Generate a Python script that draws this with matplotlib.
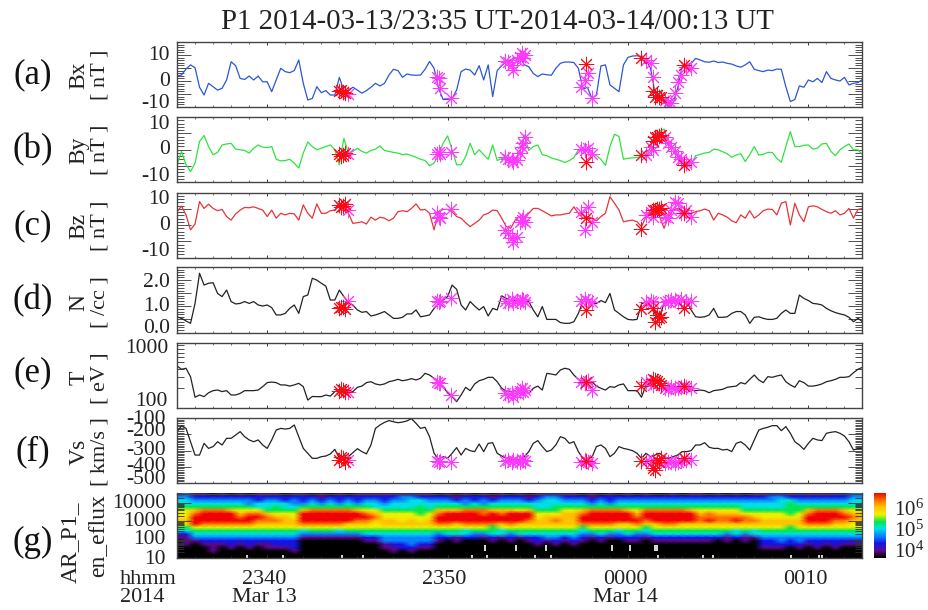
import numpy as np
import matplotlib
matplotlib.use('Agg')
import matplotlib.pyplot as plt
from matplotlib.colors import LinearSegmentedColormap, LogNorm
from matplotlib.ticker import MultipleLocator, LogLocator, NullFormatter, FixedLocator

plt.rcParams['font.family'] = ['Liberation Serif']
plt.rcParams['mathtext.fontset'] = 'custom'
plt.rcParams['mathtext.rm'] = 'Liberation Serif'

# minutes after 23:35, one sample every quarter minute
minutes = [i * 0.25 for i in range(153)]

bx = [1.9,2.3,4.6,6.2,5.1,-2.4,-5.4,-0.9,-2.2,-3.5,-2.8,0.4,7.4,5.9,1.0,0.6,1.9,0.4,1.9,-0.3,-0.3,-4.1,0.4,4.9,3.6,3.2,4.0,8.1,-0.9,-7.3,-6.7,-2.2,-4.5,-3.7,-5.4,-5.4,1.4,-3.7,-3.7,-2.4,-3.5,-4.7,-3.7,-2.4,-0.9,-1.9,-0.9,2.3,4.5,4.0,1.4,2.7,2.3,2.2,2.3,4.5,7.5,4.9,-2.8,-7.1,-7.1,-6.7,-3.5,3.6,4.6,4.2,2.3,5.9,0.4,6.2,-6.0,4.0,5.9,7.4,8.1,8.7,9.4,6.2,5.5,2.9,1.7,2.7,2.4,2.2,4.9,6.8,7.3,7.3,7.1,4.9,-3.2,-2.4,-6.7,-5.4,5.8,6.2,-1.5,-2.8,-4.1,6.2,9.1,9.6,9.7,9.4,8.1,4.9,-4.7,-6.0,-7.3,-9.9,-8.6,-2.8,5.5,6.2,6.8,8.7,8.1,7.4,7.2,7.7,7.1,7.3,6.8,6.5,5.8,5.3,6.2,7.4,4.5,4.0,3.6,4.2,4.0,4.6,4.5,-2.2,-7.9,-7.1,-1.9,-2.4,0.4,-0.3,1.0,-0.6,3.6,1.0,0.4,0.0,1.4,-1.5,-0.9,-0.6,0.6]
by = [-4.7,-0.6,-4.7,-6.8,-4.2,2.5,4.3,0.9,-1.6,-0.9,1.4,1.7,1.9,0.1,-0.1,-0.3,-1.1,0.4,1.4,0.7,0.6,0.9,-3.0,-3.5,-3.4,-3.0,-4.2,-5.7,-1.1,2.3,0.9,-0.1,0.4,0.9,1.4,-0.1,-4.7,3.4,-1.1,-0.6,0.4,-0.6,-1.1,-0.3,0.1,1.1,-0.3,-0.6,-0.9,-1.1,-1.6,-1.4,-1.9,-2.4,-3.0,-3.4,-5.0,-4.2,-1.6,1.9,4.2,-0.1,-4.7,-4.7,-2.2,1.9,-1.6,-0.1,-1.6,-3.0,1.4,-3.4,-2.7,-3.0,-3.2,-3.2,-0.6,4.5,-0.3,0.9,1.4,-1.6,-1.9,-2.6,-3.0,-3.4,-4.0,-3.4,-2.5,-0.1,0.2,-0.3,-1.3,-1.9,-3.0,-4.9,0.9,4.7,4.0,-3.0,-2.7,-2.6,-2.4,-2.2,-2.7,0.9,4.2,5.5,6.3,2.5,0.7,-1.6,-3.4,-4.2,-4.5,-1.9,-1.5,-1.1,-0.9,0.1,-0.1,-0.7,-1.3,-2.4,-1.7,-1.3,-3.7,-1.6,0.9,-1.7,-1.5,-0.9,-0.9,-2.7,-3.9,0.9,5.5,0.9,0.9,1.3,1.4,0.1,0.4,1.7,1.9,-0.6,-1.9,-0.1,0.9,1.7,-0.1,-0.1,-1.6]
bz = [4.1,5.8,3.1,-1.5,0.3,7.2,5.1,6.4,5.1,4.4,4.8,2.6,1.5,3.4,4.6,5.4,5.3,5.6,5.1,4.6,2.6,4.6,2.1,3.6,3.1,3.6,3.4,1.5,6.2,3.6,2.1,6.5,3.6,3.6,4.4,4.6,6.5,5.6,3.6,0.5,0.7,1.0,0.3,2.4,1.5,2.4,2.1,1.3,2.1,4.1,4.4,4.1,5.1,6.5,4.6,4.8,3.6,-1.5,4.1,4.8,4.8,4.1,2.6,2.1,0.7,-0.5,0.5,1.5,3.1,3.6,4.6,4.4,2.1,-0.5,-1.0,1.5,2.6,2.1,3.6,5.1,5.1,4.4,3.6,2.8,3.1,3.1,3.4,3.6,5.6,3.6,2.1,2.6,2.1,1.3,2.6,3.6,8.7,6.7,4.6,1.0,1.3,1.5,1.0,-0.5,2.6,4.6,5.1,2.6,-1.0,2.6,4.6,5.1,4.1,3.6,3.6,4.1,4.4,4.9,4.4,1.5,3.6,3.1,2.4,1.3,0.7,3.1,2.1,4.4,2.1,3.1,4.4,4.9,4.8,3.1,6.7,7.2,0.0,6.7,3.1,1.0,5.6,5.9,5.6,4.8,4.1,3.6,4.4,3.1,3.6,5.1,2.1,4.8,5.1]
density = [0.6,0.54,0.44,0.35,1.11,2.26,1.81,1.88,1.9,1.49,1.37,1.62,1.18,1.09,1.11,1.18,1.11,1.18,1.05,1.01,1.05,0.95,0.67,0.67,0.73,0.92,1.05,0.73,1.37,1.43,2.07,2.0,1.88,1.77,1.24,1.24,1.62,1.37,1.14,1.05,0.86,0.77,0.8,0.63,0.67,0.73,0.8,0.67,0.54,0.54,0.58,0.71,0.71,0.86,0.6,0.63,0.67,0.92,1.09,1.24,1.37,1.81,1.65,1.05,0.86,1.18,1.01,0.86,0.99,0.63,0.92,0.86,1.4,1.3,1.24,1.22,1.27,1.18,1.18,0.86,0.6,0.99,0.5,0.5,0.5,0.38,0.35,0.35,0.41,0.73,1.18,1.18,1.11,1.11,1.22,1.14,1.49,0.86,0.73,0.6,0.5,0.48,0.5,1.09,1.18,0.99,0.8,0.6,1.11,1.18,1.24,1.24,1.22,1.18,0.86,0.6,0.58,0.6,0.67,0.92,0.58,0.58,0.6,0.73,0.8,0.8,0.67,0.35,0.58,0.6,0.54,0.5,0.5,0.54,0.73,0.86,0.73,0.73,1.43,1.3,1.22,1.11,1.09,1.05,0.92,0.83,0.76,0.71,0.67,0.58,0.41,0.54,0.41]
temp = [438,390,404,300,146,158,149,171,184,188,178,184,158,158,167,184,184,184,188,212,244,249,244,225,225,216,225,238,212,132,150,149,149,158,152,178,188,178,171,178,207,216,244,252,233,225,233,252,261,274,261,268,281,268,284,338,319,284,244,212,170,149,125,158,207,184,233,261,274,294,294,252,200,181,178,178,178,178,167,200,216,188,338,330,319,380,404,390,319,274,244,233,252,216,200,188,212,207,225,233,184,184,184,146,225,244,252,244,225,216,212,207,200,193,188,184,188,184,171,184,188,193,207,212,216,244,233,274,319,268,244,301,294,308,319,252,225,207,261,244,216,216,222,233,252,261,274,294,294,301,346,390,418]
vs = [-184,-149,-164,-246,-328,-328,-256,-287,-276,-246,-266,-225,-225,-205,-184,-215,-235,-246,-235,-266,-287,-235,-174,-164,-168,-164,-143,-215,-287,-317,-348,-348,-338,-334,-321,-293,-348,-358,-338,-313,-289,-307,-321,-266,-164,-143,-127,-116,-123,-129,-125,-118,-104,-133,-164,-157,-215,-317,-354,-338,-348,-317,-282,-328,-287,-301,-307,-260,-307,-256,-252,-317,-334,-348,-352,-358,-354,-338,-307,-256,-239,-276,-307,-297,-266,-215,-225,-256,-246,-307,-348,-348,-342,-276,-266,-287,-338,-317,-276,-287,-293,-301,-317,-348,-317,-338,-328,-317,-338,-348,-338,-328,-307,-307,-301,-266,-266,-252,-280,-287,-287,-297,-293,-307,-256,-246,-266,-297,-235,-174,-164,-157,-147,-147,-178,-153,-194,-246,-266,-293,-256,-225,-235,-239,-194,-188,-184,-194,-211,-246,-297,-287,-287]

# star events
mag_t = [9.5,14.4,14.5,14.6,15.2,18.17,18.36,18.55,18.64,18.83,19.0,19.1,19.3,19.2,22.42,22.6,22.8,22.98,26.02,26.3,26.4,27.03,27.22,27.4,27.6,27.77,27.96,28.24,28.5]
mag_bx = [-5.1,1.4,1.0,-2.6,-6.7,7.8,7.4,6.2,4.2,8.1,9.4,10.9,10.0,8.7,-2.4,0.4,3.2,-6.7,8.1,6.8,1.7,-7.3,-8.6,-8.3,-4.7,-0.3,2.3,5.5,4.9]
mag_by = [-1.3,-1.3,-0.9,-1.3,-0.9,-2.2,-3.0,-3.2,-3.7,-3.2,-1.1,0.9,3.8,1.9,0.1,-0.3,0.4,-1.3,-1.6,0.9,-0.1,4.0,1.9,0.9,-0.6,-2.2,-3.0,-4.2,-3.7]
mag_bz = [4.6,3.8,2.6,2.1,4.8,-1.5,-2.6,-4.1,-5.1,-3.8,1.0,1.5,1.0,2.6,4.1,-1.5,5.6,1.0,3.1,4.1,2.6,2.6,2.1,4.6,7.2,6.7,3.6,4.6,2.6]
mag_n = [1.22,1.22,1.18,1.22,1.3,1.22,1.14,1.27,1.11,1.22,1.18,1.27,1.18,1.24,1.22,1.27,1.22,1.18,1.18,1.22,1.18,1.18,1.22,1.24,1.24,1.18,1.27,1.18,1.22]
mag_temp = [178,252,244,238,158,171,158,167,149,167,184,200,188,178,252,238,261,188,252,252,225,200,193,207,200,200,207,212,200]
mag_vs = [-358,-364,-369,-364,-369,-362,-358,-369,-358,-362,-369,-358,-362,-358,-369,-358,-369,-375,-362,-379,-358,-375,-369,-373,-379,-369,-362,-358,-358]

red_t = [9.0,9.2,9.3,9.1,22.7,25.7,26.4,26.6,26.7,26.5,26.85,28.1]
red_bx = [-3.7,-4.1,-4.5,-3.5,6.5,8.7,-3.7,-5.4,-6.0,-6.3,-6.0,6.2]
red_by = [-1.3,-1.6,-1.1,-1.9,-3.7,-1.8,2.5,3.8,4.2,4.0,4.5,-4.9]
red_bz = [6.2,5.8,6.5,5.6,2.1,-1.3,4.6,4.8,4.9,4.6,5.1,3.6]
red_n = [0.92,0.96,0.88,0.99,0.86,0.88,0.92,0.67,0.54,0.41,0.6,0.92]
red_temp = [184,188,178,193,247,216,274,261,238,268,225,216]
red_vs = [-358,-348,-369,-338,-364,-364,-410,-358,-369,-420,-348,-348]

# spectrogram colour levels 0-9, top energy row first, one column per half minute
spec_rows = [
    "23 11010 1011 101 1010101 11 121211 01010101010 12211 010101 0 10 0101 1010101 12212 1112 233",
    "33 22222 2222 222 2212222 22 223322 22122212221 23322 212222 2 22 2222 2222222 23322 2222 233",
    "44 33333 3323 323 2323232 33 233443 33232323332 34433 323233 3 33 3333 3333333 33443 3333 344",
    "44 44444 4344 443 3434343 44 344444 44434344444 44444 434344 4 44 4444 4444444 44454 4444 444",
    "55 55555 5544 544 5555555 54 444454 55555555555 44555 555555 5 55 5555 5555544 44455 5555 554",
    "66 78887 6665 555 7888887 66 555555 77788877767 55566 788887 6 88 8887 6666655 55555 7888 766",
    "66 89999 7887 666 9999999 87 666656 89999898999 66677 899999 7 99 9999 7877766 66656 8999 877",
    "66 99999 8998 776 9999999 98 666666 99999999999 67777 999999 8 99 9999 8888887 66666 9999 987",
    "77 99999 9988 877 9999998 87 776767 99999999998 77877 999999 9 89 9999 8988988 77777 9998 877",
    "66 98888 8877 777 8888877 76 777777 88788887877 77777 888877 8 77 8877 7777777 77777 8887 766",
    "55 66666 6666 666 6666666 66 666666 66666656666 66666 566666 6 56 6666 6666666 66656 6666 666",
    "44 55555 5555 555 4555455 55 555555 55545554555 55555 455545 5 45 5555 5555454 55555 5555 555",
    "22 44444 4444 444 3333333 44 444444 34443344344 44444 334334 3 34 4444 4443434 44444 4444 444",
    "11 33333 3333 333 1111111 22 333333 22122121212 23323 212122 2 12 2222 2221211 33333 3333 333",
    "01 12222 2222 222 0000000 11 333333 10100010101 21212 101001 1 01 1111 1101010 22323 2222 222",
    "01 01112 1211 222 0000000 00 122322 00000000000 10101 000000 0 00 0000 0000000 22222 1212 111",
    "00 00101 0101 112 0000000 00 112211 00000000000 00000 000000 0 00 0000 0000000 11101 0101 000",
    "00 00100 0000 001 0000000 00 010100 00000000000 00000 000000 0 00 0000 0000000 00000 0000 000",
    "00 00000 0000 000 0000000 00 000000 00000000000 00000 000000 0 00 0000 0000000 00000 0000 000",
    "00 00000 0000 000 0000000 00 000000 00000000000 00000 000000 0 00 0000 0000000 00000 0000 000",
]
spec_minutes = [i * 0.5 for i in range(77)]
spec_log_energy = [4.52,4.335,4.15,3.96,3.78,3.59,3.41,3.22,3.04,2.85,2.67,2.48,2.3,2.11,1.93,1.74,1.56,1.37,1.19,1.0]

# empty cells in the low energy part
gap_low_t = [3.86,5.89,9.12,10.32,16.38,17.16,19.83,20.75,26.67,29.16,29.72,34.05,35.6,35.75]
gap_high_t = [17.06,18.78,20.44,24.14,25.13,26.49,26.6]

title = 'P1 2014-03-13/23:35 UT-2014-03-14/00:13 UT'
hour_ticks = [5, 15, 25, 35]
hour_labels = ['2340', '2350', '0000', '0010']

W, H = 929, 610
X0, X1 = 177, 862.5
fig = plt.figure(figsize=(W / 100, H / 100), dpi=100)


def panel(y0, y1, x0=X0, x1=X1):
    return fig.add_axes([x0 / W, 1 - y1 / H, (x1 - x0) / W, (y1 - y0) / H])


def put(x, y, s, **kw):
    fig.text(x / W, 1 - y / H, s, ha=kw.pop('ha', 'center'), va=kw.pop('va', 'center'), **kw)


def style(ax):
    ax.set_xlim(0, 38)
    ax.xaxis.set_major_locator(FixedLocator(hour_ticks))
    ax.xaxis.set_minor_locator(MultipleLocator(1))
    ax.tick_params(axis='x', which='major', length=2.5, width=0.7, top=True, direction='in', labelbottom=False, color='#333333')
    ax.tick_params(axis='x', which='minor', length=1.2, width=0.5, top=True, direction='in', color='#333333')
    ax.tick_params(axis='y', which='major', length=10, width=0.6, right=True, direction='in', labelleft=False, color='#333333')
    ax.tick_params(axis='y', which='minor', length=5, width=0.6, right=True, direction='in', color='#333333')
    for s in ax.spines.values():
        s.set_linewidth(1.0)
        s.set_color('#444444')


def ylabels(ax, vals, texts, shifts, pad=7):
    for v, t, dy in zip(vals, texts, shifts):
        ax.annotate(t, xy=(0, v), xycoords=ax.get_yaxis_transform(), xytext=(-pad, dy),
                    textcoords='offset pixels', ha='right', va='center', fontsize=15.5, color='#222222')


panels = [
    dict(y=(42, 107), v=bx, m=mag_bx, r=red_bx, c='#2b57d6', lim=(-10, 15), maj=5, mnr=1,
         tv=[10, 0, -10], tl=['10', '0', '-10'], dy=[0, 0, 4], pad=7,
         lab=('Bx', '[ nT ]'), tag='(a)', ly=75, tag_y=75),
    dict(y=(117, 182), v=by, m=mag_by, r=red_by, c='#2fe33f', lim=(-10, 10), maj=5, mnr=1,
         tv=[10, 0, -10], tl=['10', '0', '-10'], dy=[-7, 0, 6], pad=7,
         lab=('By', '[ nT ]'), tag='(b)', ly=150, tag_y=150),
    dict(y=(192.5, 257.5), v=bz, m=mag_bz, r=red_bz, c='#e5343a', lim=(-10, 10), maj=5, mnr=1,
         tv=[10, 0, -10], tl=['10', '0', '-10'], dy=[-7, 0, 6], pad=7,
         lab=('Bz', '[ nT ]'), tag='(c)', ly=226, tag_y=226),
    dict(y=(267, 332.5), v=density, m=mag_n, r=red_n, c='#222222', lim=(0, 2.5), maj=0.5, mnr=0.1,
         tv=[2, 1, 0], tl=['2.0', '1.0', '0.0'], dy=[-2, 0, 4], pad=7,
         lab=('N', '[ /cc ]'), tag='(d)', ly=302, tag_y=301),
    dict(y=(342.5, 408), v=temp, m=mag_temp, r=red_temp, c='#222222', lim=(100, 1000), maj=None, mnr=None,
         tv=[1000, 100], tl=['1000', '100'], dy=[-6, 6], pad=9,
         lab=('T', '[ eV ]'), tag='(e)', ly=378, tag_y=373),
    dict(y=(418, 483), v=vs, m=mag_vs, r=red_vs, c='#222222', lim=(-500, -100), maj=100, mnr=10,
         tv=[-100, -200, -300, -400, -500], tl=['-100', '-200', '-300', '-400', '-500'], dy=[-2, 3, 0, 0, 3], pad=11,
         lab=('Vs', '[ km/s ]'), tag='(f)', ly=452, tag_y=452),
]

for p in panels:
    ax = panel(*p['y'])
    style(ax)
    ax.plot(minutes, p['v'], color=p['c'], lw=0.9)
    ax.plot(mag_t, p['m'], ls='none', marker=(8, 2, 0), ms=11, mew=0.7, color='#ff38ff')
    ax.plot(red_t, p['r'], ls='none', marker=(8, 2, 0), ms=11, mew=0.7, color='#fa0a14')
    if p['maj'] is None:
        ax.set_yscale('log')
        ax.yaxis.set_major_locator(LogLocator(base=10, numticks=3))
        ax.yaxis.set_minor_locator(LogLocator(base=10, subs=range(2, 10), numticks=3))
        ax.yaxis.set_minor_formatter(NullFormatter())
    else:
        ax.yaxis.set_major_locator(MultipleLocator(p['maj']))
        ax.yaxis.set_minor_locator(MultipleLocator(p['mnr']))
    ax.set_ylim(*p['lim'])
    style(ax)
    ylabels(ax, p['tv'], p['tl'], p['dy'], p['pad'])
    put(79, p['ly'], p['lab'][0], rotation=90, fontsize=17, color='#222222')
    put(100, p['ly'], p['lab'][1], rotation=90, fontsize=16, color='#222222')
    put(33, p['tag_y'], p['tag'], fontsize=25, color='#111111')

# spectrogram
levels = np.array([[int(ch) for ch in row.replace(' ', '')] for row in spec_rows])
flux = 10 ** (3.75 + levels / 9 * 3.05)
energy = 10 ** np.array(spec_log_energy)
spec_colors = ['#000000', '#5c0a8e', '#1414e6', '#0a82ff', '#00e0e6', '#00e650', '#eef000', '#ffc400', '#ff7000', '#f00000']
cmap = LinearSegmentedColormap.from_list('idl', spec_colors)
norm = LogNorm(10 ** 3.75, 10 ** 6.8)

ax = panel(493.5, 558)
ax.pcolormesh(spec_minutes, energy, flux, cmap=cmap, norm=norm, shading='gouraud', rasterized=True)
ax.vlines(gap_low_t, 10 ** 1.0, 10 ** 1.18, color='white', lw=1.2)
ax.vlines(gap_high_t, 10 ** 1.4, 10 ** 1.7, color='white', lw=1.2)
ax.set_yscale('log')
ax.set_ylim(10, 10 ** 4.52)
ax.yaxis.set_major_locator(LogLocator(base=10, numticks=6))
ax.yaxis.set_minor_locator(LogLocator(base=10, subs=range(2, 10), numticks=6))
ax.yaxis.set_minor_formatter(NullFormatter())
style(ax)
ylabels(ax, [10000, 1000, 100, 10], ['10000', '1000', '100', '10'], [0, 0, 0, -1], pad=11)
put(70, 542, 'AR_P1_', rotation=90, fontsize=17, color='#222222')
put(98, 536, 'en_eflux', rotation=90, fontsize=17, color='#222222')
put(33, 542, '(g)', fontsize=25, color='#111111')

# colour bar
cax = panel(493, 558, 874, 886)
bar = np.logspace(3.75, 6.8, 128)
cax.pcolormesh([0, 1], bar, np.column_stack([bar[:-1]]), cmap=cmap, norm=norm, shading='flat')
cax.set_yscale('log')
cax.set_ylim(bar[0], bar[-1])
cax.set_xticks([])
cax.set_yticks([])
cax.minorticks_off()
for s in cax.spines.values():
    s.set_visible(False)
for v, txt in zip([1e6, 1e5, 1e4], ['10^{6}', '10^{5}', '10^{4}']):
    cax.annotate('$\\mathregular{%s}$' % txt, xy=(1, v), xycoords=cax.get_yaxis_transform(), xytext=(8, 0),
                 textcoords='offset pixels', ha='left', va='center', fontsize=15, color='#222222')

# time axis text
for t, lab in zip(hour_ticks, hour_labels):
    put(X0 + (X1 - X0) * t / 38 - 3, 579, lab, fontsize=16, color='#222222')
put(120, 579, 'hhmm', ha='left', fontsize=16, color='#222222')
put(120, 597, '2014', ha='left', fontsize=16, color='#222222')
put(264, 597, 'Mar 13', fontsize=16, color='#222222')
put(625, 597, 'Mar 14', fontsize=16, color='#222222')

put(497, 22, title, fontsize=20.8, color='#222222')

fig.savefig('out.png', dpi=100)
